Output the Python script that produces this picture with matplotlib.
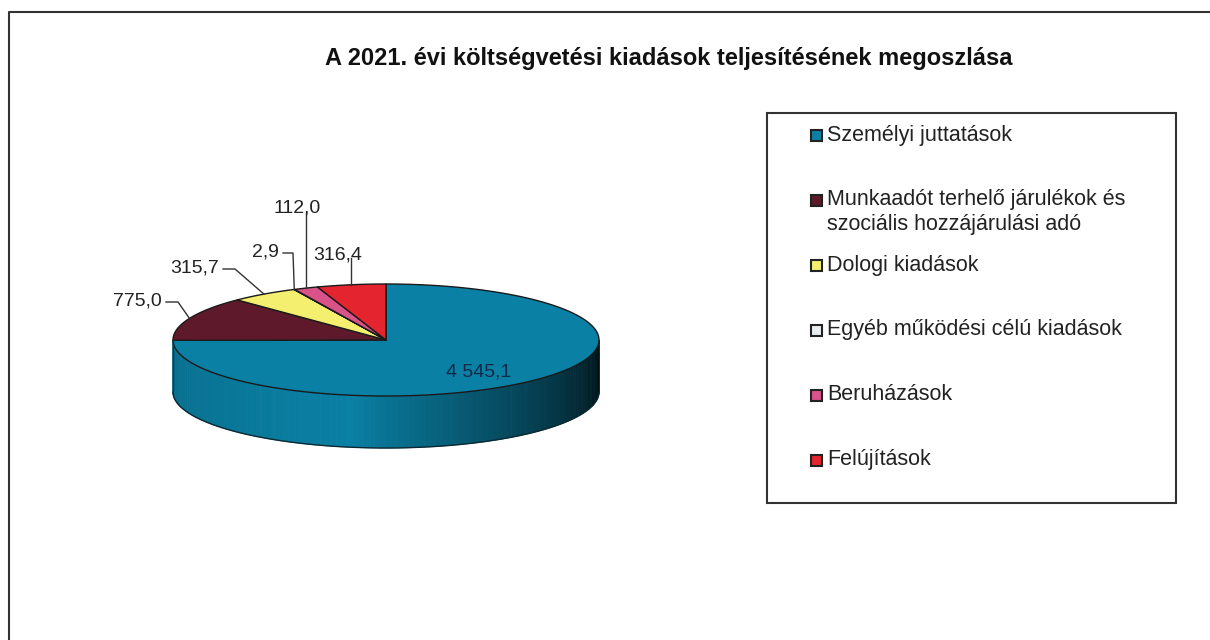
import numpy as np
import matplotlib
matplotlib.use('Agg')
import matplotlib.pyplot as plt
from matplotlib.patches import Polygon, Rectangle

plt.rcParams['font.family'] = ['Liberation Sans', 'DejaVu Sans']

title = 'A 2021. évi költségvetési kiadások teljesítésének megoszlása'
categories = ['Személyi juttatások',
              'Munkaadót terhelő járulékok és\nszociális hozzájárulási adó',
              'Dologi kiadások',
              'Egyéb működési célú kiadások',
              'Beruházások',
              'Felújítások']
values = [4545.1, 775.0, 315.7, 2.9, 112.0, 316.4]
value_labels = ['4 545,1', '775,0', '315,7', '2,9', '112,0', '316,4']
colors = ['#0a80a4', '#5e1a2a', '#f4ef6e', '#e8eef0', '#d9528a', '#e42530']

# pie geometry in pixel coords
cx, cy = 386, 340
rx, ry = 213, 56
depth = 52

fig = plt.figure(figsize=(12.1, 6.4), dpi=100)
ax = fig.add_axes([0, 0, 1, 1])
ax.set_xlim(0, 1210)
ax.set_ylim(640, 0)
ax.axis('off')

# outer frame
ax.plot([9, 9, 1210], [640, 12, 12], color='#333333', lw=1.5)


def pt(deg, yoff=0):
    t = np.radians(deg)
    return cx + rx * np.cos(t), cy - ry * np.sin(t) + yoff


# angles: start at 90 going clockwise
total = sum(values)
bounds = [90.0]
for v in values:
    bounds.append(bounds[-1] - 360 * v / total)

# side of the cylinder (front half is all first slice), shaded strips
n = 120
angs = np.linspace(180, 360, n + 1)
base = np.array([10, 128, 164]) / 255
for i in range(n):
    a0, a1 = angs[i], angs[i + 1]
    f = (i + 0.5) / n
    if f < 0.45:
        shade = 0.85 + 0.15 * (f / 0.45)
    else:
        shade = 1.0 - 0.88 * ((f - 0.45) / 0.55) ** 0.9
    col = np.clip(base * shade, 0, 1)
    ts = np.linspace(a0, a1, 4)
    top = [pt(t) for t in ts]
    bot = [pt(t, depth) for t in ts[::-1]]
    ax.add_patch(Polygon(top + bot, closed=True, facecolor=col, edgecolor=col, lw=0.6))
ts = np.linspace(180, 360, 200)
ax.plot([pt(t, depth)[0] for t in ts], [pt(t, depth)[1] for t in ts], color='#0d2a33', lw=1)
ax.plot([pt(180)[0]] * 2, [cy, cy + depth], color='#0d3a48', lw=1)

# top face wedges
for i, v in enumerate(values):
    a0, a1 = bounds[i], bounds[i + 1]
    ts = np.linspace(a0, a1, max(3, int(abs(a1 - a0) * 2)))
    poly = [(cx, cy)] + [pt(t) for t in ts]
    ax.add_patch(Polygon(poly, closed=True, facecolor=colors[i], edgecolor='#1a1a1a', lw=1.0,
                         joinstyle='round'))

# data labels
mids = [(bounds[i] + bounds[i + 1]) / 2 for i in range(len(values))]
lab_fs = 14
ax.text(479, 372, value_labels[0], fontsize=lab_fs, color='#102a4a', ha='center', va='center')

# label text positions and leader elbows
label_pos = {1: (162, 301), 2: (219, 268), 3: (279, 252), 4: (297, 208), 5: (338, 255)}
for i, (tx, ty) in label_pos.items():
    ex, ey = pt(mids[i])
    if i in (1, 2, 3):
        ax.text(tx, ty, value_labels[i], fontsize=lab_fs, color='#222222', ha='right', va='center')
        sx = tx + 4
        elbow = sx + (12 if i != 3 else 10)
        ax.plot([sx, elbow, ex], [ty + 1, ty + 1, ey], color='#333333', lw=1)
    elif i == 4:
        ax.text(tx, ty, value_labels[i], fontsize=lab_fs, color='#222222', ha='center', va='center')
        ax.plot([ex, ex], [ty + 5, ey], color='#333333', lw=1)
    else:
        ax.text(tx, ty, value_labels[i], fontsize=lab_fs, color='#222222', ha='center', va='center')
        ax.plot([ex, ex], [ty + 3, ey], color='#333333', lw=1)

# title
ax.text(669, 58, title, fontsize=17, fontweight='bold', ha='center', va='center', color='#111111')

# legend box
ax.add_patch(Rectangle((767, 113), 409, 390, facecolor='white', edgecolor='#333333', lw=1.5))
leg_y = [135, 212, 265, 330, 395, 460]
for i, lab in enumerate(categories):
    y = leg_y[i]
    first_y = y - 12 if '\n' in lab else y
    ax.add_patch(Rectangle((811, first_y - 5.5), 11, 11, facecolor=colors[i], edgecolor='#222222', lw=1.5))
    ax.text(827, y, lab, fontsize=15.5, color='#222222', ha='left', va='center', linespacing=1.3)

fig.savefig('out.png', dpi=100)
